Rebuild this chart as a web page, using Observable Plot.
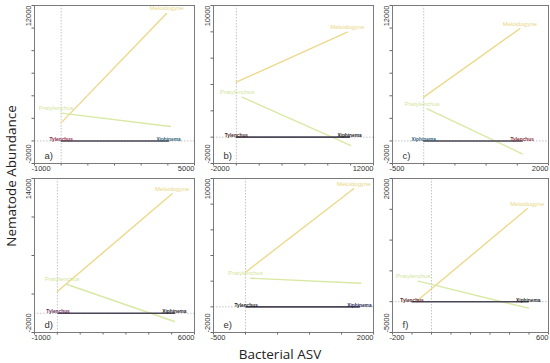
<!DOCTYPE html>
<html>
<head>
<meta charset="utf-8">
<script src="https://cdn.jsdelivr.net/npm/d3@7"></script>
<script src="https://cdn.jsdelivr.net/npm/@observablehq/plot@0.6"></script>
<style>
  html, body { margin: 0; padding: 0; background: #fff; }
  #chart { position: relative; width: 550px; height: 363px; background: #fff; overflow: hidden; }
  #chart svg { position: absolute; }
  .ytitle { position: absolute; left: 11px; top: 176px; transform: translate(-50%, -50%) rotate(-90deg); white-space: nowrap;
            font-family: "Open Sans", sans-serif; font-size: 13.5px; color: #222; }
  .xtitle { position: absolute; left: 280px; top: 354px; transform: translate(-50%, -50%); white-space: nowrap;
            font-family: "Open Sans", sans-serif; font-size: 13.5px; color: #222; }
</style>
</head>
<body>
<div id="chart">
  <div class="ytitle">Nematode Abundance</div>
  <div class="xtitle">Bacterial ASV</div>
</div>
<script>
// ---- data ----
const panelLabels = ["a)", "b)", "c)", "d)", "e)", "f)"];
const xMin = [-1000, -2000, -500, -1000, -500, -200];
const xMax = [5000, 12000, 2000, 6000, 2000, 600];
const yMin = [-2000, -2000, -2000, -2000, -2000, -5000];
const yMax = [12000, 10000, 12000, 14000, 10000, 20000];
const xStep = [1000, 2000, 500, 1000, 500, 100];
const yStep = [2000, 2000, 2000, 4000, 2000, 5000];
// [x0, y0, x1, y1] per panel
const meloidogyne = [
  [0, 1600, 3950, 11300],
  [0, 4175, 9700, 7970],
  [0, 3880, 1540, 9940],
  [0, 2260, 5020, 12410],
  [0, 2700, 1690, 9200],
  [-72, 200, 491, 15080]
];
const pratylenchus = [
  [0, 2460, 4100, 1280],
  [500, 3040, 9990, -630],
  [56, 2850, 1578, -1140],
  [430, 2990, 5120, -860],
  [80, 2230, 1800, 1840],
  [-68, 3330, 497, -1050]
];
const leftName = ["Tylenchus", "Tylenchus", "Xiphinema", "Tylenchus", "Tylenchus", "Tylenchus"];
const rightName = ["Xiphinema", "Xiphinema", "Tylenchus", "Xiphinema", "Xiphinema", "Xiphinema"];
const leftX = [0, 0, 0, 30, 10, -100];
const rightX = [4025, 9900, 1578, 5120, 1780, 496];
const baseY = [0, 0, 0, 0, 0, 0];

// ---- layout / style (not data) ----
const frames = [[34,194,5,163],[213,373,5,163],[392,548,5,163],[34,194,178,332],[213,373,178,332],[392,548,178,332]];
const leftColor = ["#8a2b4a", "#4a1f2a", "#2f5f78", "#6a2a5a", "#222222", "#5a1f2a"];
const rightColor = ["#2d6577", "#222222", "#8a2b3a", "#222222", "#1f2a55", "#222222"];
const ML = 16, MR = 2, MT = 2, MB = 12;
const chart = document.getElementById("chart");
const fmt = d => String(d);

for (let i = 0; i < 6; i++) {
  const [fx0, fx1, fy0, fy1] = frames[i];
  const m = meloidogyne[i], p = pratylenchus[i];
  const melo = [{x: m[0], y: m[1]}, {x: m[2], y: m[3]}];
  const praty = [{x: p[0], y: p[1]}, {x: p[2], y: p[3]}];
  const base = [
    {x: leftX[i], y: baseY[i], name: leftName[i], color: leftColor[i]},
    {x: rightX[i], y: baseY[i], name: rightName[i], color: rightColor[i]}
  ];
  const xTicks = d3.range(xMin[i], xMax[i] + 1e-9, xStep[i]);
  const yTicks = d3.range(yMin[i], yMax[i] + 1e-9, yStep[i]);
  const axisFont = {fontSize: 7.5, fill: "#333", tickSize: 0, tickFormat: fmt};
  const svg = Plot.plot({
    width: fx1 - fx0 + ML + MR,
    height: fy1 - fy0 + MT + MB,
    marginLeft: ML, marginRight: MR, marginTop: MT, marginBottom: MB,
    x: {domain: [xMin[i], xMax[i]], label: null},
    y: {domain: [yMin[i], yMax[i]], label: null},
    style: {fontFamily: "Arial, 'Liberation Sans', sans-serif", background: "transparent", overflow: "visible"},
    marks: [
      Plot.ruleX([0], {stroke: "#b5b5b5", strokeWidth: 0.8, strokeDasharray: "1.5,1.5"}),
      Plot.ruleY([0], {stroke: "#b5b5b5", strokeWidth: 0.8, strokeDasharray: "1.5,1.5"}),
      Plot.axisX(xTicks, {tickSize: 2.5, fill: "none", stroke: "#666", tickFormat: () => ""}),
      Plot.axisY(yTicks, {tickSize: 2.5, fill: "none", stroke: "#666", tickFormat: () => ""}),
      Plot.axisX([xMin[i]], {...axisFont, textAnchor: "start", tickPadding: 2, dx: -3}),
      Plot.axisX([xMax[i]], {...axisFont, textAnchor: "end", tickPadding: 2}),
      Plot.axisY([yMax[i]], {...axisFont, rotate: -90, textAnchor: "end", tickPadding: 6}),
      Plot.axisY([yMin[i]], {...axisFont, rotate: -90, textAnchor: "start", tickPadding: 6}),
      Plot.line(melo, {x: "x", y: "y", stroke: "#ecd98a", strokeWidth: 1.4}),
      Plot.line(praty, {x: "x", y: "y", stroke: "#d8e9a4", strokeWidth: 1.4}),
      Plot.text([melo[1]], {x: "x", y: "y", text: () => "Meloidogyne", dy: -5, fill: "#e9d681", fontSize: 6}),
      Plot.text([praty[0]], {x: "x", y: "y", text: () => "Pratylenchus", dx: -5, dy: -5, fill: "#d2e59a", fontSize: 6}),
      Plot.line(base, {x: "x", y: "y", stroke: "#4a4656", strokeWidth: 1.6}),
      Plot.text(base, {x: "x", y: "y", text: "name", fill: "color", fontSize: 4.8, fontWeight: "bold", dy: -1.5}),
      Plot.text([panelLabels[i]], {frameAnchor: "bottom-left", text: d => d, dx: 10, dy: -5, fontSize: 9.5, fill: "#333", textAnchor: "start"}),
      Plot.frame({stroke: "#7a7a7a", strokeWidth: 1})
    ]
  });
  svg.style.left = (fx0 - ML) + "px";
  svg.style.top = (fy0 - MT) + "px";
  chart.appendChild(svg);
}
</script>
</body>
</html>
